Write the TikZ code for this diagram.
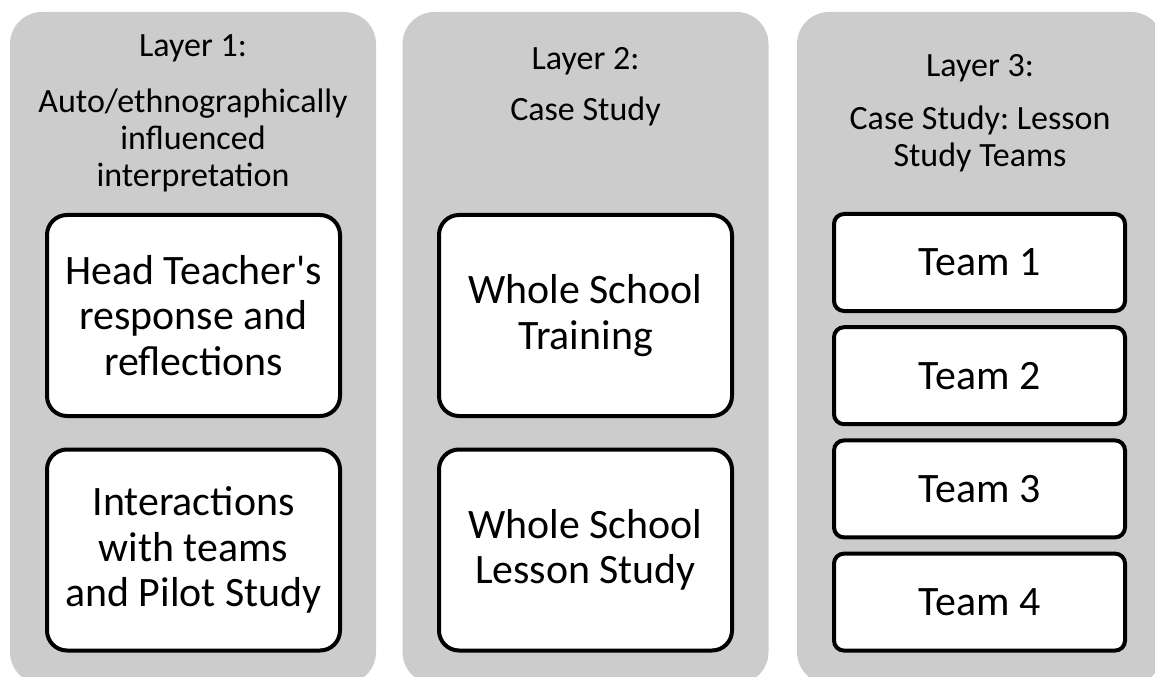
\documentclass[tikz,border=0pt]{standalone}
\usepackage{fontspec}
\setmainfont{Carlito}
\usetikzlibrary{positioning}
\frenchspacing

\definecolor{panelgray}{HTML}{CCCCCC}

\tikzset{
  layerbg/.style={fill=panelgray, rounded corners=24pt, minimum width=274.5pt, minimum height=504pt, inner sep=0pt},
  layerhead/.style={anchor=base, align=center, inner sep=0pt, font=\fontsize{25.5}{28.1}\selectfont},
  bigbox/.style={draw=black, fill=white, line width=3pt, rounded corners=15pt, minimum width=219.75pt, minimum height=150.75pt, align=center, font=\fontsize{31.4}{34.1}\selectfont},
  teambox/.style={bigbox, rounded corners=7.5pt, minimum width=218.25pt, minimum height=72.75pt}
}

\begin{document}
\begin{tikzpicture}[x=0.75pt,y=-0.75pt]
  \useasboundingbox (0,0) rectangle (1155,677);

  % grey layers
  \node[layerbg] (layerA) at (193,348) {};
  \node[layerbg] (layerB) at (585.5,348) {};
  \node[layerbg] (layerC) at (980,348) {};

  % headings (base = last line)
  \node[layerhead] (headA) at (193,57) {Layer 1:};
  \node[layerhead] (descA) at (193,187) {Auto/ethnographically\\influenced\\interpretation};
  \node[layerhead] (headB) at (585.5,70) {Layer 2:};
  \node[layerhead] (descB) at (585.5,121) {Case Study};
  \node[layerhead] (headC) at (980,77) {Layer 3:};
  \node[layerhead] (descC) at (980,167) {Case Study: Lesson\\Study Teams};

  % layer 1 and 2 boxes
  \node[bigbox] (headteacher) at (193.5,315.5) {Head Teacher\textquotesingle s\\response and\\reflections};
  \node[bigbox] (interactions) at (193.5,550) {Interactions\\with teams\\and Pilot Study};
  \node[bigbox] (training) at (585.5,315.5) {Whole School\\Training};
  \node[bigbox] (lessonstudy) at (585.5,550) {Whole School\\Lesson Study};

  % layer 3 teams
  \foreach \i in {1,...,4}
    \node[teambox] (team\i) at (979.5,{262.5+113.2*(\i-1)}) {Team \i};

\end{tikzpicture}
\end{document}
